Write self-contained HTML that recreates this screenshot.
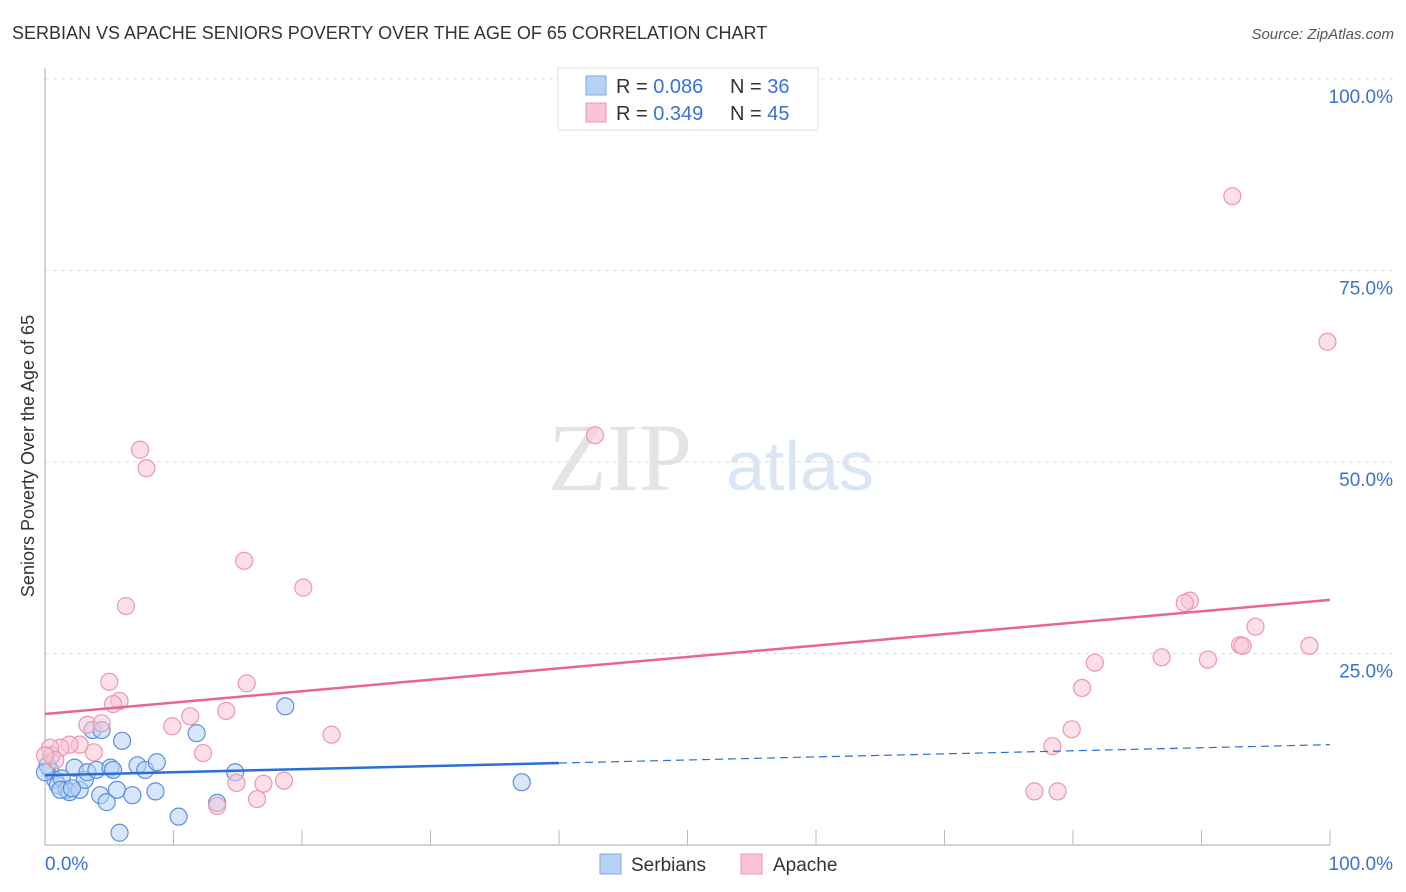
<!DOCTYPE html>
<html><head><meta charset="utf-8"><style>
body{margin:0;background:#fff;font-family:"Liberation Sans",sans-serif;}
svg{display:block}
</style></head><body>
<svg id="chart" width="1406" height="892">
<text x="12" y="39" font-size="18" fill="#333">SERBIAN VS APACHE SENIORS POVERTY OVER THE AGE OF 65 CORRELATION CHART</text>
<text x="1394" y="39" font-size="15" fill="#555" font-style="italic" text-anchor="end">Source: ZipAtlas.com</text>
<text x="620" y="490" font-size="96" fill="#e4e4e4" font-family="Liberation Serif,serif" text-anchor="middle">ZIP</text>
<text x="800" y="490" font-size="70" fill="#dbe6f5" text-anchor="middle">atlas</text>
<text transform="translate(34,456) rotate(-90)" font-size="18" fill="#333" text-anchor="middle">Seniors Poverty Over the Age of 65</text>
<g id="grid"></g><g id="marks"></g>
<g>
<rect x="558" y="68" width="260" height="62" fill="#fff" stroke="#ddd"/>
<rect x="586" y="76" width="20" height="19" fill="#b8d2f5" stroke="#7fa8e0"/>
<rect x="586" y="103" width="20" height="19" fill="#f9c4d4" stroke="#ec97b3"/>
<text x="616" y="93" font-size="20" fill="#333">R = <tspan fill="#3a72d4">0.086</tspan></text>
<text x="730" y="93" font-size="20" fill="#333">N = <tspan fill="#3a72d4">36</tspan></text>
<text x="616" y="120" font-size="20" fill="#333">R = <tspan fill="#3a72d4">0.349</tspan></text>
<text x="730" y="120" font-size="20" fill="#333">N = <tspan fill="#3a72d4">45</tspan></text>
</g>
<g>
<rect x="600" y="854" width="21" height="20" fill="#b8d2f5" stroke="#7fa8e0"/>
<text x="631" y="871" font-size="19" fill="#333">Serbians</text>
<rect x="741" y="854" width="21" height="20" fill="#f9c4d4" stroke="#ec97b3"/>
<text x="773" y="871" font-size="19" fill="#333">Apache</text>
</g>
</svg>
<script>
const serbX=[0.4,0.8,1.0,1.3,1.7,1.9,2.3,2.7,3.1,3.3,3.7,4.0,4.3,4.4,4.8,5.1,5.3,5.6,6.0,5.8,6.8,7.2,7.8,8.6,8.7,10.4,11.8,13.4,14.8,18.7,37.1,0.2,1.2,2.1,0,0.5];
const serbY=[9.8,8.5,7.8,8.7,7.2,6.9,10.1,7.2,8.5,9.5,15.0,9.8,6.5,15.0,5.6,10.1,9.8,7.2,13.6,1.6,6.5,10.4,9.8,7.0,10.8,3.7,14.6,5.5,9.5,18.1,8.2,10.4,7.2,7.4,9.5,11.7];
const apX=[92.4,99.8,42.8,7.4,7.9,15.5,20.1,6.3,89.1,88.7,94.2,93.0,93.2,98.4,81.7,86.9,90.5,80.7,5.0,15.7,5.8,5.3,11.3,14.1,9.9,3.3,4.4,22.3,79.9,78.4,12.3,3.8,2.7,1.9,1.2,0.4,0.8,0,14.9,17.0,18.6,16.5,13.4,77.0,78.8];
const apY=[84.7,65.7,53.5,51.6,49.2,37.1,33.6,31.2,31.9,31.6,28.5,26.1,26.0,26.0,23.8,24.5,24.2,20.5,21.3,21.1,18.8,18.4,16.8,17.5,15.5,15.7,15.9,14.4,15.1,12.9,12.0,12.1,13.1,13.1,12.7,12.7,11.1,11.7,8.1,8.0,8.4,6.0,5.1,7.0,7.0];
const serbTrend=[9.1,13.1];
const apTrend=[17.1,32.0];
const yTicks=[25,50,75,100];
const yTickLabels=["25.0%","50.0%","75.0%","100.0%"];
const NS="http://www.w3.org/2000/svg";
const sx=v=>45+v*12.85, sy=v=>845-v*7.66;
function mk(t,a,p){const e=document.createElementNS(NS,t);for(const k in a)e.setAttribute(k,a[k]);p.appendChild(e);return e;}
const grid=document.getElementById('grid'), marks=document.getElementById('marks');
yTicks.forEach((t,i)=>{
 const l=mk('line',{x1:45,x2:1394,y1:sy(t),y2:sy(t),stroke:'#ddd','stroke-dasharray':'4,4'},grid);
 
 
 const tx=mk('text',{x:1393,y:sy(t)+24,'font-size':19,fill:'#3a72d4','text-anchor':'end'},grid);
 tx.textContent=yTickLabels[i];
 
 
});
mk('line',{x1:45,x2:45,y1:68,y2:845,stroke:'#aaa'},grid);
mk('line',{x1:45,x2:1330,y1:845,y2:845,stroke:'#aaa'},grid);
for(let i=1;i<=10;i++){const l=mk('line',{x1:sx(i*10),x2:sx(i*10),y1:830,y2:845,stroke:'#bbb'},grid);
 
 }
const xl=mk('text',{x:45,y:870,'font-size':19,fill:'#3a72d4'},grid);xl.textContent='0.0%';


const xr=mk('text',{x:1393,y:870,'font-size':19,fill:'#3a72d4','text-anchor':'end'},grid);xr.textContent='100.0%';


function pts(X,Y,fill,stroke,name){X.forEach((x,i)=>{const c=mk('circle',{cx:sx(x),cy:sy(Y[i]),r:8.5,fill:fill,'fill-opacity':0.55,stroke:stroke,'stroke-width':1.2},marks);
 
 });}
pts(serbX,serbY,'#b8d2f5','#5b8fe0','serbian-point');
pts(apX,apY,'#f9c4d4','#ec97b3','apache-point');
const at=v=>serbTrend[0]+(serbTrend[1]-serbTrend[0])*v/100;
const b1=mk('line',{x1:sx(0),y1:sy(at(0)),x2:sx(40),y2:sy(at(40)),stroke:'#2a6fd6','stroke-width':2.5},marks);


const b2=mk('line',{x1:sx(40),y1:sy(at(40)),x2:sx(100),y2:sy(at(100)),stroke:'#2a6fd6','stroke-width':1.2,'stroke-dasharray':'8,5'},marks);


const p1=mk('line',{x1:sx(0),y1:sy(apTrend[0]),x2:sx(100),y2:sy(apTrend[1]),stroke:'#e8668f','stroke-width':2.5},marks);


</script>
</body></html>
